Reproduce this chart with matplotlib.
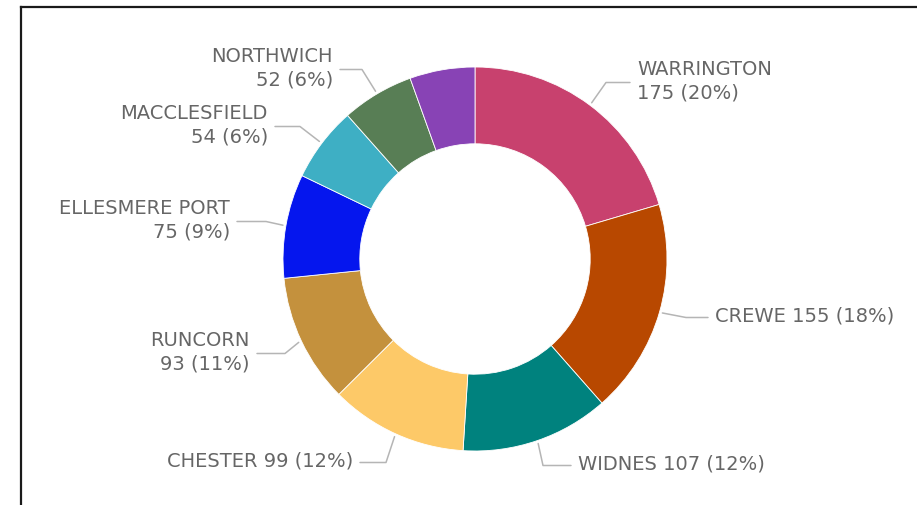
import numpy as np
import matplotlib.pyplot as plt
from matplotlib.lines import Line2D

# data -------------------------------------------------------------------
towns = ['WARRINGTON', 'CREWE', 'WIDNES', 'CHESTER', 'RUNCORN',
         'ELLESMERE PORT', 'MACCLESFIELD', 'NORTHWICH', 'OTHER']
counts = [175, 155, 107, 99, 93, 75, 54, 52, 47]
colours = ['#C8416E', '#B84800', '#00827E', '#FDC968', '#C4913D',
           '#0516EE', '#3EAFC4', '#587E55', '#8843B5']
show_label = [True, True, True, True, True, True, True, True, False]

# label layout in pixels:
# (x, y from top, alignment, two lines, elbow x)
label_pos = [(637, 81, 'left', True, 606),
             (715, 316, 'left', False, 686),
             (578, 464, 'left', False, 543),
             (353, 461, 'right', False, 386),
             (250, 352, 'right', True, 285),
             (230, 220, 'right', True, 266),
             (268, 125, 'right', True, 300),
             (333, 68, 'right', True, 362),
             None]

W, H = 917, 505
cx, cy, R = 475, 259, 192

fam, fs = 'DejaVu Sans', 14
txt_col = '#666666'

fig = plt.figure(figsize=(W/100, H/100), dpi=100)
ax = fig.add_axes([0, 0, 1, 1])

wedges, _ = ax.pie(counts, colors=colours, startangle=90, counterclock=False,
                   center=(cx, H - cy), radius=R,
                   wedgeprops=dict(width=R*0.4, edgecolor='white', linewidth=0.6))
ax.set_xlim(0, W)
ax.set_ylim(0, H)
ax.axis('off')

total = sum(counts)
for w, name, v, show, pos in zip(wedges, towns, counts, show_label, label_pos):
    if not show:
        continue
    pct = round(100 * v / total)
    tx, ty, ha, two, ex = pos
    sep = '\n' if two else ' '
    s = '%s%s%d (%d%%)' % (name, sep, v, pct)
    ax.text(tx, H - ty, s, ha=ha, va='center', fontsize=fs, family=fam,
            color=txt_col, linespacing=1.3)
    # leader line from the wedge middle to the label
    mid = np.deg2rad((w.theta1 + w.theta2) / 2)
    sx = cx + (R + 3) * np.cos(mid)
    sy = (H - cy) + (R + 3) * np.sin(mid)
    ly = H - (ty + 1.5)
    endx = tx - 7 if ha == 'left' else tx + 7
    ax.plot([sx, ex, endx], [sy, ly, ly], color='#b5b5b5', lw=1.1,
            solid_capstyle='round')

# frame on left and top
fig.add_artist(Line2D([21/W, 21/W], [0, 1 - 7/H], transform=fig.transFigure,
                      color='#1a1a1a', lw=1.6))
fig.add_artist(Line2D([21/W, 1], [1 - 7/H, 1 - 7/H], transform=fig.transFigure,
                      color='#1a1a1a', lw=1.6))

fig.savefig('out.png', dpi=100, facecolor='white')
